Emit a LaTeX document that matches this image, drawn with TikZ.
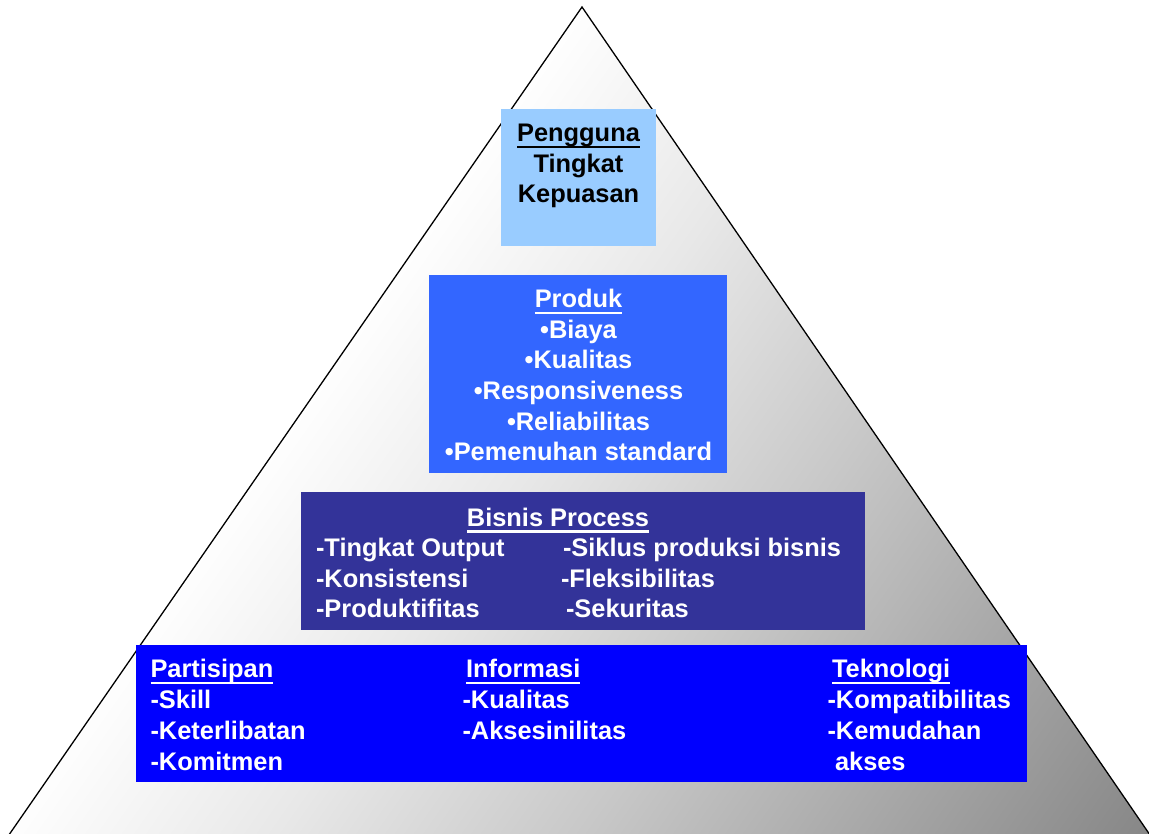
\documentclass[tikz,border=0pt]{standalone}
\usepackage{fontspec}
\setmainfont{Liberation Sans}

\definecolor{userblue}{HTML}{99CCFF}
\definecolor{prodblue}{HTML}{3366FF}
\definecolor{procblue}{HTML}{333399}
\definecolor{baseblue}{HTML}{0000FF}
\definecolor{shadelight}{HTML}{E8E8E8}
\definecolor{shademid}{HTML}{C8C8C8}
\definecolor{shadegray}{HTML}{868686}

% diagonal fill of the pyramid: white on the upper left, grey towards the lower right
\pgfdeclarehorizontalshading{pyramidshade}{1400bp}{color(0bp)=(white); color(470bp)=(white); color(700bp)=(shadelight); color(950bp)=(shademid); color(1420bp)=(shadegray); color(1460bp)=(shadegray)}

% underlined heading word
\newcommand\ulword[1]{\setbox0=\hbox{#1}\rlap{\rule[-6.5pt]{\wd0}{2.4pt}}\box0}

\begin{document}
\begin{tikzpicture}[x=1pt,y=-1pt,
  layer/.style={inner sep=0pt, outer sep=0pt, anchor=north west},
  txt/.style={inner sep=0pt, outer sep=0pt, text=white,
              font=\fontsize{25.4}{30}\selectfont\bfseries},
  ctxt/.style={txt, anchor=base},
  ltxt/.style={txt, anchor=base west}]

\useasboundingbox (0,0) rectangle (1149,834);

% pyramid outline
\coordinate (apex) at (582,7);
\coordinate (bl) at (8.2,836);
\coordinate (br) at (1150.7,836);

\begin{scope}
  \clip (apex) -- (bl) -- (br) -- cycle;
  \node[transform shape, rotate=-35, anchor=west, inner sep=0pt, outer sep=0pt]
    (fillshade) at (0,0) {\pgfuseshading{pyramidshade}};
\end{scope}
\draw[line width=1.3pt, line join=miter] (apex) -- (bl) -- (br) -- cycle;

% levels of the pyramid
\node[layer, fill=userblue, minimum width=155pt, minimum height=137pt] (user) at (501,109) {};
\node[layer, fill=prodblue, minimum width=298pt, minimum height=198pt] (product) at (429,275) {};
\node[layer, fill=procblue, minimum width=564pt, minimum height=138pt] (process) at (301,492) {};
\node[layer, fill=baseblue, minimum width=891pt, minimum height=137pt] (base) at (136,645) {};

% top level
\node[ctxt, text=black] (u1) at (578.5,142) {\ulword{Pengguna}};
\node[ctxt, text=black] (u2) at (578.5,172.5) {Tingkat};
\node[ctxt, text=black] (u3) at (578.5,203) {Kepuasan};

% product level
\node[ctxt] (p1) at (578.5,308) {\ulword{Produk}};
\node[ctxt] (p2) at (578.5,338.5) {•Biaya};
\node[ctxt] (p3) at (578.5,369) {•Kualitas};
\node[ctxt] (p4) at (578.5,399.5) {•Responsiveness};
\node[ctxt] (p5) at (578.5,430) {•Reliabilitas};
\node[ctxt] (p6) at (578.5,460.5) {•Pemenuhan standard};

% business process level
\node[ctxt] (b0) at (558,526) {\ulword{Bisnis Process}};
\node[ltxt] (b1) at (316,556.5) {-Tingkat Output};
\node[ltxt] (b2) at (316,587) {-Konsistensi};
\node[ltxt] (b3) at (316,617) {-Produktifitas};
\node[ltxt] (b4) at (563,556.5) {-Siklus produksi bisnis};
\node[ltxt] (b5) at (561,587) {-Fleksibilitas};
\node[ltxt] (b6) at (566,617) {-Sekuritas};

% base level
\node[ltxt] (s0) at (150.5,677.5) {\ulword{Partisipan}};
\node[ltxt] (s1) at (150.5,708.5) {-Skill};
\node[ltxt] (s2) at (150.5,739.5) {-Keterlibatan};
\node[ltxt] (s3) at (150.5,770) {-Komitmen};

\node[ltxt] (i0) at (466,677.5) {\ulword{Informasi}};
\node[ltxt] (i1) at (462.5,708.5) {-Kualitas};
\node[ltxt] (i2) at (462.5,739.5) {-Aksesinilitas};

\node[ltxt] (t0) at (832,677.5) {\ulword{Teknologi}};
\node[ltxt] (t1) at (827.5,708.5) {-Kompatibilitas};
\node[ltxt] (t2) at (827.5,739.5) {-Kemudahan};
\node[ltxt] (t3) at (835,770) {akses};

\end{tikzpicture}
\end{document}
